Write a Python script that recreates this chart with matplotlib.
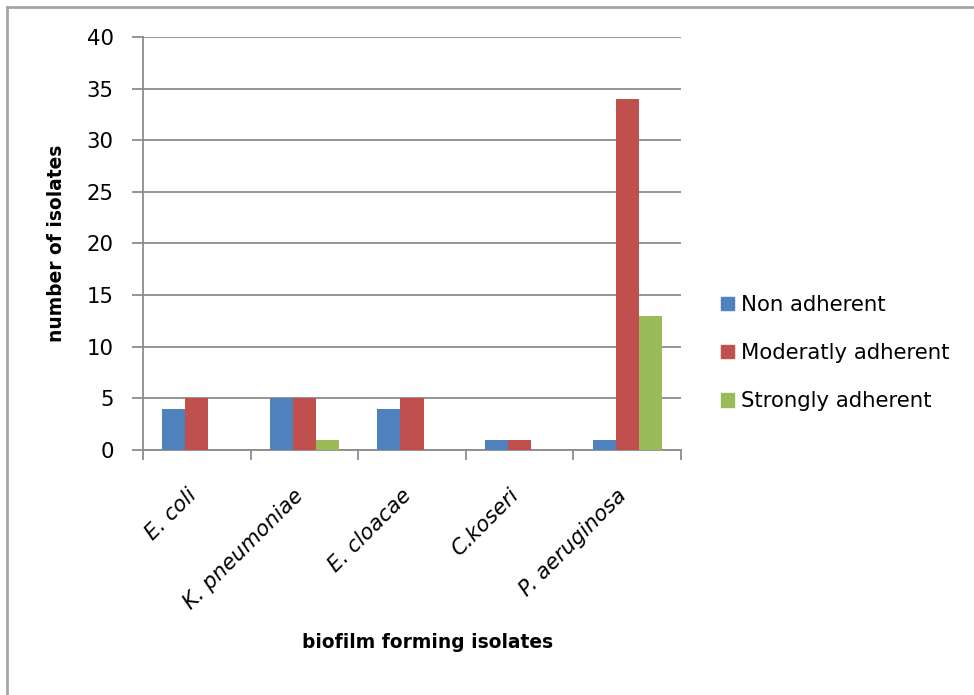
import matplotlib
matplotlib.use("Agg")
import matplotlib.pyplot as plt
import numpy as np
from matplotlib.lines import Line2D

categories = ["E. coli", "K. pneumoniae", "E. cloacae", "C.koseri", "P. aeruginosa"]
series_names = ["Non adherent", "Moderatly adherent", "Strongly adherent"]
non_adherent = [4, 5, 4, 1, 1]
moderatly_adherent = [5, 5, 5, 1, 34]
strongly_adherent = [0, 1, 0, 0, 13]
y_ticks = [0, 5, 10, 15, 20, 25, 30, 35, 40]

colors = ["#4F81BD", "#C0504D", "#9BBB59"]
series = [non_adherent, moderatly_adherent, strongly_adherent]

plt.rcParams['font.family'] = ['DejaVu Sans']
FS = 15.3
FSB = 13.4

fig = plt.figure(figsize=(9.74, 6.95), dpi=100)
ax = fig.add_axes([0.1468, 0.3525, 0.5524, 0.5943])

x = np.arange(len(categories))
w = 0.214
for i, (vals, c, name) in enumerate(zip(series, colors, series_names)):
    ax.bar(x + (i - 1) * w, vals, width=w, color=c, label=name, zorder=3)

ax.set_xlim(-0.5, len(categories) - 0.5)
ax.set_ylim(0, 40)
ax.set_yticks(y_ticks)
ax.set_yticklabels([str(t) for t in y_ticks], fontsize=FS)
ax.yaxis.grid(True, color="#8C8C8C", linewidth=1.3, zorder=0)
ax.set_axisbelow(True)

ax.set_xticks(np.arange(len(categories) + 1) - 0.5)
ax.set_xticklabels([])
ax.tick_params(axis='x', which='major', length=7, width=1.3, color="#8C8C8C", direction='out')
ax.tick_params(axis='y', length=8, width=1.3, color="#8C8C8C", direction='out', pad=13)

for i, lab in enumerate(categories):
    ax.text(i - 0.10, -3.4, lab, rotation=45, ha='right', va='top',
            rotation_mode='anchor', fontsize=FS, style='italic',
            transform=ax.transData, clip_on=False)

for s in ["top", "right"]:
    ax.spines[s].set_visible(False)
for s in ["left", "bottom"]:
    ax.spines[s].set_color("#8C8C8C")
    ax.spines[s].set_linewidth(1.3)

fig.text(0.0585, 0.650, "number of isolates", rotation=90, ha='center', va='center',
         fontsize=FSB, fontweight='bold')
fig.text(0.4385, 0.076, "biofilm forming isolates", ha='center', va='center',
         fontsize=FSB, fontweight='bold')

handles = [plt.Rectangle((0, 0), 1, 1, color=c) for c in colors]
leg = fig.legend(handles, series_names, loc='center left', bbox_to_anchor=(0.740, 0.492),
                 frameon=False, fontsize=FS, handlelength=0.6, handleheight=0.6,
                 handletextpad=0.35, labelspacing=1.33, borderaxespad=0, borderpad=0)

# outer chart frame (left and top edges)
fig.add_artist(Line2D([0.0072, 0.0072], [0.0, 0.99], transform=fig.transFigure,
                      color="#A6A6A6", linewidth=2))
fig.add_artist(Line2D([0.0072, 1.0], [0.99, 0.99], transform=fig.transFigure,
                      color="#A6A6A6", linewidth=2))

fig.savefig("out.png", dpi=100)
